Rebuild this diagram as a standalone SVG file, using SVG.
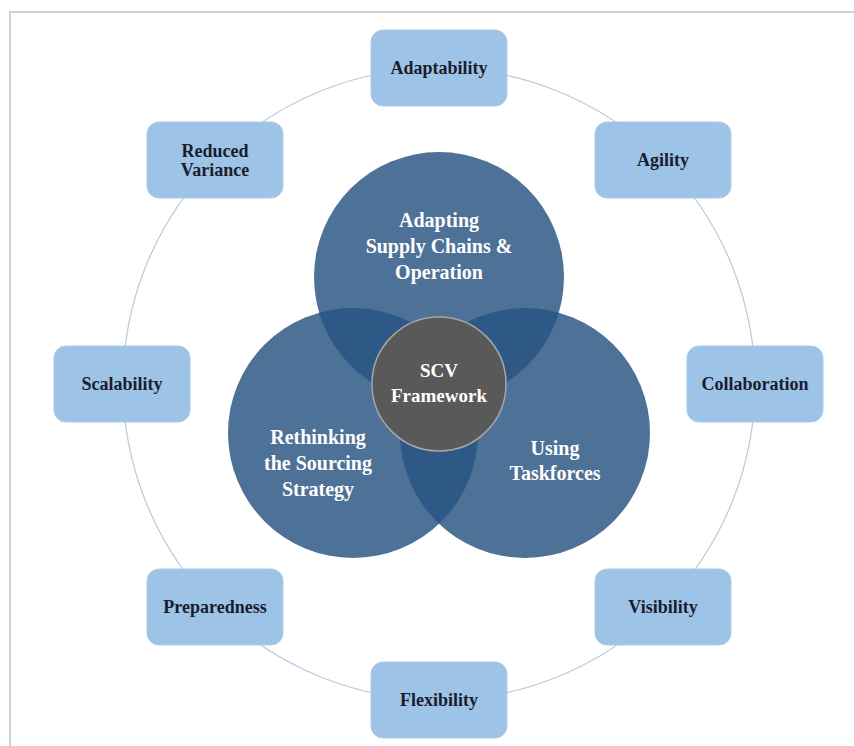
<svg xmlns="http://www.w3.org/2000/svg" width="854" height="746" viewBox="0 0 854 746">
  <style>
    .ring { fill: none; stroke: #b9c9e0; stroke-width: 1.2; }
    .box rect { fill: #9dc3e6; stroke: #a9cbea; stroke-width: 1; }
    .box text { font-family: "Liberation Serif", "Times New Roman", serif; font-weight: bold; font-size: 18px; fill: #1a1c2c; text-anchor: middle; dominant-baseline: central; }
    .pillar { fill: #4d7197; }
    .overlap { fill: #2e5986; }
    .hub circle { fill: #595959; stroke: #a6a6a6; stroke-width: 1.5; }
    .label { font-family: "Liberation Serif", "Times New Roman", serif; font-weight: bold; font-size: 20px; fill: #ffffff; text-anchor: middle; dominant-baseline: central; }
    .hub text { font-size: 19px; }
  </style>
  <defs>
    <clipPath id="clipTop"><circle cx="439" cy="277" r="125"/></clipPath>
    <clipPath id="clipLeft"><circle cx="353" cy="433" r="125"/></clipPath>
    <clipPath id="clipRight"><circle cx="525" cy="433" r="125"/></clipPath>
  </defs>

  <rect x="0" y="0" width="854" height="746" fill="#ffffff"/>
  <!-- page frame -->
  <polyline points="10,746 10,12 854,12" fill="none" stroke="#d2d2d2" stroke-width="2"/>

  <!-- connectors: the outer ring joining the attribute boxes -->
  <g id="connectors">
    <circle class="ring" cx="439" cy="384" r="316"/>
  </g>

  <!-- three pillars -->
  <g id="pillar-supply">
    <circle class="pillar" cx="439" cy="277" r="125"/>
  </g>
  <g id="pillar-sourcing">
    <circle class="pillar" cx="353" cy="433" r="125"/>
  </g>
  <g id="pillar-taskforces">
    <circle class="pillar" cx="525" cy="433" r="125"/>
  </g>

  <!-- overlap lenses -->
  <g id="overlaps">
    <g clip-path="url(#clipTop)"><circle class="overlap" cx="353" cy="433" r="125"/></g>
    <g clip-path="url(#clipTop)"><circle class="overlap" cx="525" cy="433" r="125"/></g>
    <g clip-path="url(#clipLeft)"><circle class="overlap" cx="525" cy="433" r="125"/></g>
  </g>

  <!-- pillar labels -->
  <g id="pillar-labels">
    <text class="label" x="439" y="220">Adapting</text>
    <text class="label" x="439" y="246">Supply Chains &amp;</text>
    <text class="label" x="439" y="272">Operation</text>

    <text class="label" x="318" y="437">Rethinking</text>
    <text class="label" x="318" y="463">the Sourcing</text>
    <text class="label" x="318" y="489">Strategy</text>

    <text class="label" x="555" y="448">Using</text>
    <text class="label" x="555" y="473">Taskforces</text>
  </g>

  <!-- central hub -->
  <g id="hub" class="hub">
    <circle cx="439" cy="384" r="67"/>
    <text class="label" x="439" y="370">SCV</text>
    <text class="label" x="439" y="395">Framework</text>
  </g>

  <!-- attribute boxes around the ring -->
  <g id="adaptability" class="box">
    <rect x="371" y="30" width="136" height="76" rx="12"/>
    <text x="439" y="68">Adaptability</text>
  </g>
  <g id="agility" class="box">
    <rect x="595" y="122" width="136" height="76" rx="12"/>
    <text x="663" y="160">Agility</text>
  </g>
  <g id="collaboration" class="box">
    <rect x="687" y="346" width="136" height="76" rx="12"/>
    <text x="755" y="384">Collaboration</text>
  </g>
  <g id="visibility" class="box">
    <rect x="595" y="569" width="136" height="76" rx="12"/>
    <text x="663" y="607">Visibility</text>
  </g>
  <g id="flexibility" class="box">
    <rect x="371" y="662" width="136" height="76" rx="12"/>
    <text x="439" y="700">Flexibility</text>
  </g>
  <g id="preparedness" class="box">
    <rect x="147" y="569" width="136" height="76" rx="12"/>
    <text x="215" y="607">Preparedness</text>
  </g>
  <g id="scalability" class="box">
    <rect x="54" y="346" width="136" height="76" rx="12"/>
    <text x="122" y="384">Scalability</text>
  </g>
  <g id="reduced-variance" class="box">
    <rect x="147" y="122" width="136" height="76" rx="12"/>
    <text x="215" y="151">Reduced</text>
    <text x="215" y="170">Variance</text>
  </g>
</svg>
